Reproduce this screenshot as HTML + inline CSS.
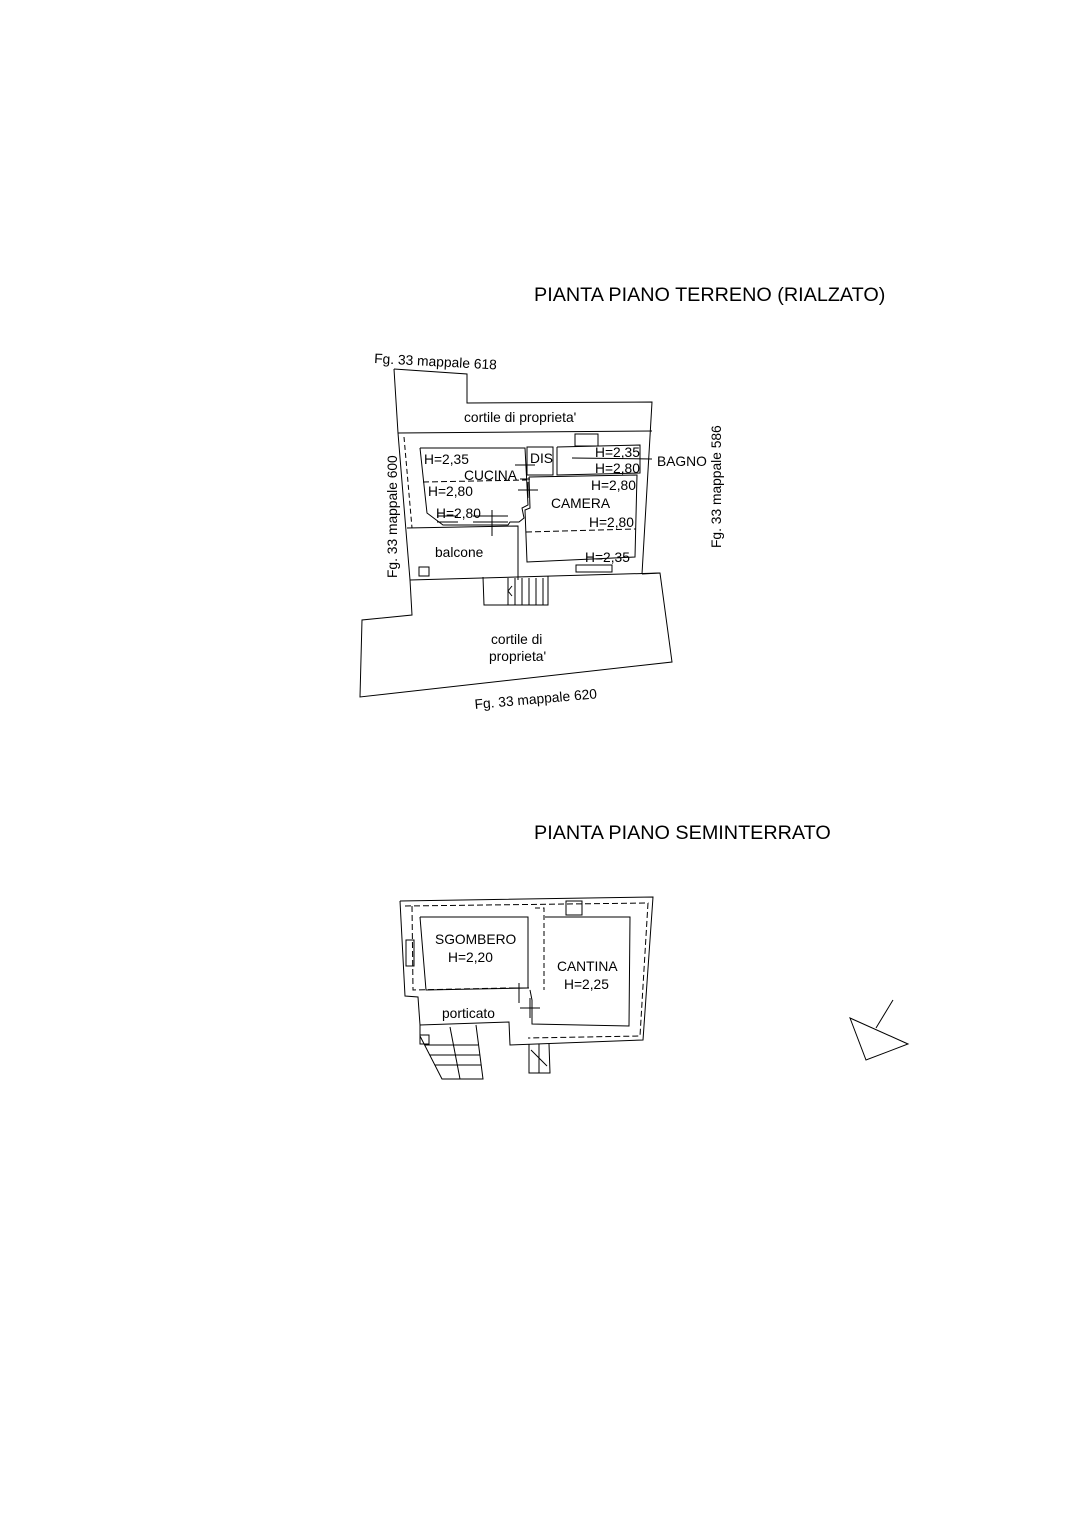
<!DOCTYPE html>
<html><head><meta charset="utf-8"><style>
html,body{margin:0;padding:0;background:#fff}
svg{display:block}
text{font-family:"Liberation Sans",Arial,sans-serif;fill:#000}
</style></head><body>
<svg width="1086" height="1536" viewBox="0 0 1086 1536" xmlns="http://www.w3.org/2000/svg">
<g stroke="#000" stroke-width="1" fill="none">
<polyline points="394,369 467,374 467,403 652,402 642,574"/>
<polyline points="394,369 398,433 410,580 412,615 362,620 360,697 672,662 660,573 642,574"/>
<line x1="398" y1="433" x2="652" y2="431"/>
<line x1="410" y1="580" x2="660" y2="573"/>
<polyline points="404,437 412,528" stroke-dasharray="5,3"/>
<polyline points="407,528 518,526 518,580"/>
<rect x="419" y="567" width="10" height="9"/>
<polyline points="420,448 525,448 528,505 522,508 524,518 519,522 510,522 508,525 443,525 427,513 420,448"/>
<line x1="423" y1="482" x2="527" y2="480" stroke-dasharray="6,3"/>
<line x1="437" y1="516" x2="458" y2="516"/><line x1="437" y1="522" x2="458" y2="522"/>
<line x1="473" y1="516" x2="508" y2="516"/><line x1="473" y1="522" x2="508" y2="522"/>
<line x1="492" y1="510" x2="492" y2="536"/>
<rect x="527" y="447" width="26" height="28"/>
<line x1="515" y1="465" x2="535" y2="465"/>
<line x1="520" y1="479" x2="530" y2="479"/>
<polyline points="557,447 640,445 640,473 557,475 557,447"/>
<rect x="575" y="434" width="23" height="12"/>
<line x1="572" y1="458" x2="652" y2="459"/>
<polyline points="529,477 637,475 635,557 527,562 525,510 530,508 529,477"/>
<line x1="526" y1="532" x2="636" y2="529" stroke-dasharray="6,3"/>
<line x1="518" y1="490" x2="538" y2="490"/><line x1="528" y1="482" x2="528" y2="498"/>
<rect x="576" y="565" width="36" height="7"/>
<polyline points="483,577 484,605 548,605 548,576"/>
<line x1="508" y1="578" x2="508" y2="605"/><line x1="515" y1="578" x2="515" y2="605"/>
<line x1="522" y1="578" x2="522" y2="605"/><line x1="529" y1="578" x2="529" y2="605"/>
<line x1="536" y1="578" x2="536" y2="605"/><line x1="543" y1="578" x2="543" y2="605"/>
<polyline points="512,586 508,591 512,596"/>
<polyline points="400,901 653,897 643,1040 510,1045 509,1022 420,1025 418,997 405,996 400,901"/>
<polyline points="405,906 648,903 640,1036 528,1038" stroke-dasharray="6,3"/>
<polyline points="412,906 413,990 508,988" stroke-dasharray="6,3"/>
<polyline points="420,917 528,917 528,988 426,990 420,917"/>
<polyline points="535,908 544,908 544,990" stroke-dasharray="5,3"/>
<polyline points="545,917 630,917 629,1026 532,1024 532,1000 530,990"/>
<rect x="566" y="901" width="16" height="14"/>
<line x1="519" y1="983" x2="519" y2="1003"/><line x1="509" y1="988" x2="529" y2="988"/>
<line x1="520" y1="1008" x2="540" y2="1008"/><line x1="530" y1="998" x2="530" y2="1018"/>
<rect x="406" y="940" width="8" height="26"/>
<polyline points="420,1025 420,1036 442,1079 483,1079 476,1025"/>
<rect x="420" y="1035" width="9" height="9"/>
<line x1="450" y1="1027" x2="460" y2="1079"/>
<line x1="425" y1="1045" x2="478" y2="1045"/><line x1="430" y1="1055" x2="480" y2="1055"/>
<line x1="435" y1="1065" x2="481" y2="1065"/>
<polyline points="529,1044 529,1073 550,1073 549,1044"/>
<line x1="539" y1="1044" x2="539" y2="1073"/><line x1="531" y1="1050" x2="547" y2="1066"/>
<polygon points="850,1018 908,1044 866,1060"/>
<line x1="876" y1="1028" x2="893" y2="1000"/>
</g>
<g font-size="19.8"><text x="534" y="301">PIANTA PIANO TERRENO (RIALZATO)</text>
<text x="534" y="839">PIANTA PIANO SEMINTERRATO</text></g>
<g font-size="13.8">
<text x="374" y="363" transform="rotate(3 374 363)">Fg. 33 mappale 618</text>
<text x="475" y="709" transform="rotate(-5 475 709)">Fg. 33 mappale 620</text>
<text transform="translate(397,578) rotate(-90)">Fg. 33 mappale 600</text>
<text transform="translate(721,548) rotate(-90)">Fg. 33 mappale 586</text>
<text x="464" y="422">cortile di proprieta'</text>
<text x="424" y="464">H=2,35</text>
<text x="464" y="480">CUCINA</text>
<text x="428" y="496">H=2,80</text>
<text x="436" y="518">H=2,80</text>
<text x="530" y="463">DIS</text>
<text x="595" y="457">H=2,35</text>
<text x="595" y="473">H=2,80</text>
<text x="657" y="466">BAGNO</text>
<text x="591" y="490">H=2,80</text>
<text x="551" y="508">CAMERA</text>
<text x="589" y="527">H=2,80</text>
<text x="585" y="562">H=2,35</text>
<text x="435" y="557">balcone</text>
<text x="491" y="644">cortile di</text>
<text x="489" y="661">proprieta'</text>
<text x="435" y="944">SGOMBERO</text>
<text x="448" y="962">H=2,20</text>
<text x="557" y="971">CANTINA</text>
<text x="564" y="989">H=2,25</text>
<text x="442" y="1018">porticato</text>
</g>
</svg>
</body></html>
